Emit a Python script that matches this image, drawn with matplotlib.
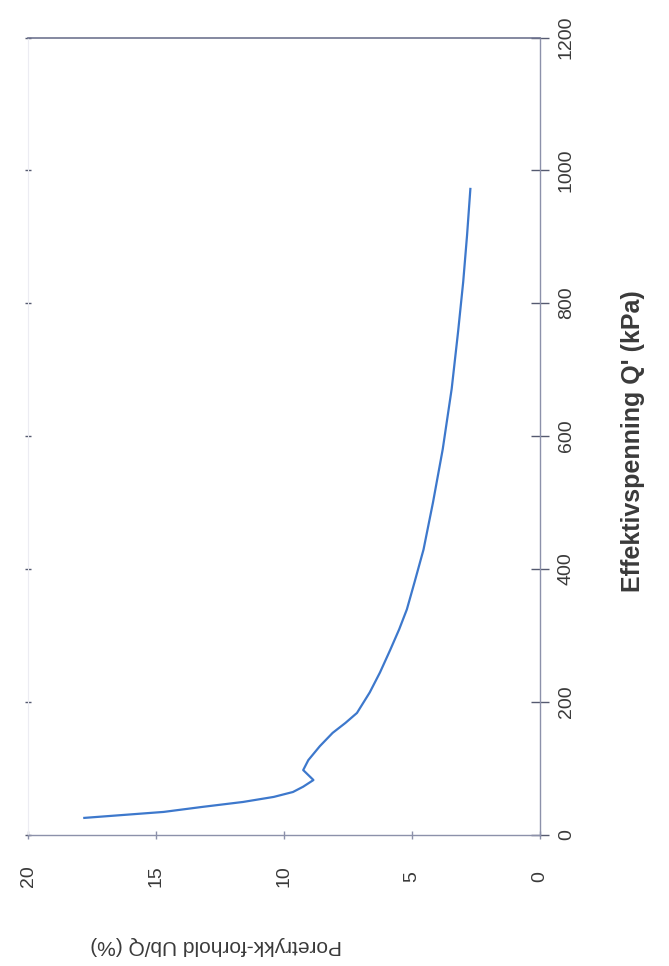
import matplotlib
matplotlib.use("Agg")
import matplotlib.pyplot as plt

plt.rcParams['font.family'] = ['Liberation Sans', 'DejaVu Sans']

# Data: effective stress (kPa) and pore pressure ratio (%)
stress = [25, 34, 41.5, 49, 56.6, 64, 72, 82, 97, 112, 133, 153, 168, 183, 214,
          244, 278, 309, 339, 380, 429, 500, 580, 671, 757, 832, 902, 972]
ratio = [17.8, 14.7, 13.2, 11.6, 10.4, 9.65, 9.25, 8.85, 9.25, 9.05, 8.6, 8.1, 7.6,
         7.15, 6.65, 6.25, 5.85, 5.5, 5.2, 4.9, 4.55, 4.18, 3.8, 3.45, 3.2, 3.0,
         2.85, 2.72]

stress_ticks = [0, 200, 400, 600, 800, 1000, 1200]
ratio_ticks = [0, 5, 10, 15, 20]
stress_label = "Effektivspenning Q' (kPa)"
ratio_label = "Poretrykk-forhold Ub/Q (%)"

W, H = 669, 966
fig = plt.figure(figsize=(W / 100, H / 100), dpi=100)
fig.patch.set_facecolor('white')

x0, x1 = 28, 540
y_bot, y_top = 834.5, 37.5
ax = fig.add_axes([x0 / W, (H - y_bot) / H, (x1 - x0) / W, (y_bot - y_top) / H])

ax.plot(ratio, stress, color='#3d78cc', lw=1.6, solid_joinstyle='round')

ax.set_xlim(20, 0)
ax.set_ylim(0, 1200)

txt_color = '#3a3a3a'
axis_color = '#8c91aa'

# Spines
ax.spines['right'].set_color(axis_color)
ax.spines['right'].set_linewidth(1.0)
ax.spines['bottom'].set_color(axis_color)
ax.spines['bottom'].set_linewidth(1.0)
ax.spines['top'].set_color('#6f7490')
ax.spines['top'].set_linewidth(1.2)
ax.spines['left'].set_color('#ececf2')
ax.spines['left'].set_linewidth(0.8)

# Stress axis (vertical, on the right)
ax.set_yticks(stress_ticks)
ax.set_yticklabels([str(v) for v in stress_ticks])
ax.yaxis.tick_right()
ax.tick_params(axis='y', which='major', direction='inout', length=13, width=1.0,
               color='#555a70', pad=12.5, labelsize=14, labelcolor=txt_color,
               labelrotation=90, left=True, right=True)
for t in ax.yaxis.get_major_ticks():
    t.label2.set_ha('center')
    t.label2.set_va('center')
    t.tick1line.set_markersize(5)
    t.tick1line.set_color('#9a9aa8')

# Ratio axis (horizontal, at the bottom)
ax.set_xticks(ratio_ticks)
ax.set_xticklabels([str(v) for v in ratio_ticks])
ax.tick_params(axis='x', which='major', direction='inout', length=6, width=1.0,
               color='#8c91aa', pad=27, labelsize=14, labelcolor=txt_color,
               labelrotation=90)
for t in ax.xaxis.get_major_ticks():
    t.label1.set_va('center')
    t.label1.set_ha('center')

ax.yaxis.set_label_position('right')
ax.set_ylabel(stress_label, fontsize=18, fontweight='bold', color=txt_color,
              rotation=90, ha='center', va='center')
ax.yaxis.set_label_coords((633 - x0) / (x1 - x0), (y_bot - 441) / (y_bot - y_top))

ax.set_xlabel(ratio_label, fontsize=15, color=txt_color, rotation=180,
              ha='center', va='center')
ax.xaxis.set_label_coords((216 - x0) / (x1 - x0), (y_bot - 945) / (y_bot - y_top))

fig.savefig('out.png', dpi=100, facecolor='white')
